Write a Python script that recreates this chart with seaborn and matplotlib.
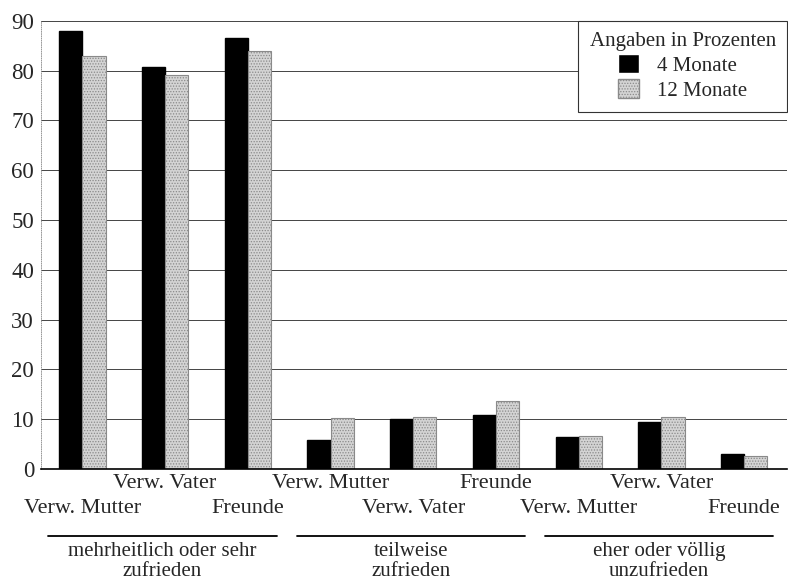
import pandas as pd
import seaborn as sns
import matplotlib.pyplot as plt
from matplotlib.transforms import blended_transform_factory

# Data (percent)
groups = ["mehrheitlich oder sehr\nzufrieden", "teilweise\nzufrieden", "eher oder völlig\nunzufrieden"]
persons = ["Verw. Mutter", "Verw. Vater", "Freunde"]
series = ["4 Monate", "12 Monate"]
values_4 = [88.0, 80.8, 86.6, 5.8, 10.0, 10.8, 6.4, 9.4, 3.0]
values_12 = [83.0, 79.2, 84.0, 10.2, 10.4, 13.6, 6.6, 10.4, 2.5]
label_rows = [1, 0, 1, 0, 1, 0, 1, 0, 1]  # 0 = upper row, 1 = lower row

# Long-form table, one unique key per bar pair
keys = [f"{g}|{p}" for g in groups for p in persons]
df = pd.DataFrame({
    "key": keys * 2,
    "Zeitpunkt": [series[0]] * 9 + [series[1]] * 9,
    "Prozent": values_4 + values_12,
})

sns.set_style("white")
plt.rcParams["font.family"] = ["Liberation Serif", "DejaVu Serif"]
plt.rcParams["hatch.linewidth"] = 0.6

fig = plt.figure(figsize=(7.88, 5.81), dpi=100)
ax = fig.add_axes([0.052, 0.193, 0.947, 0.771])

sns.barplot(data=df, x="key", y="Prozent", hue="Zeitpunkt", order=keys,
            hue_order=series, palette=["black", "#d4d4d4"], width=0.56,
            gap=0, saturation=1, ax=ax, legend=True)

# stippled look for the 12-month bars
for bar in ax.containers[1]:
    bar.set_hatch("......")
    bar.set_edgecolor("#8a8a8a")
    bar.set_linewidth(0.8)
for bar in ax.containers[0]:
    bar.set_edgecolor("black")

ax.set_ylim(0, 90)
ax.set_xlim(-0.5, 8.52)
ax.set_yticks(range(0, 91, 10))
ax.yaxis.grid(True, color="#444444", linewidth=0.7)
ax.set_axisbelow(True)
ax.set_xlabel("")
ax.set_ylabel("")
ax.set_xticks(range(9))
ax.set_xticklabels([])
ax.tick_params(axis="x", length=0)
ax.tick_params(axis="y", length=0, pad=5, labelsize=16.5)

for s in ["top", "right"]:
    ax.spines[s].set_visible(False)
ax.spines["bottom"].set_color("black")
ax.spines["bottom"].set_linewidth(1.2)
ax.spines["left"].set_color("#888888")
ax.spines["left"].set_linewidth(0.6)
ax.spines["left"].set_linestyle(":")

trans = blended_transform_factory(ax.transData, ax.transAxes)

# two-row category labels
row_y = [-0.0335, -0.089]
for i, (p, r) in enumerate(zip(persons * 3, label_rows)):
    ax.text(i, row_y[r], p, transform=trans, ha="center", va="center",
            fontsize=16)

# group brackets and group labels below the axis
for i, g in enumerate(groups):
    x0, x1 = -0.41 + 3 * i, 2.35 + 3 * i
    ax.plot([x0, x1], [-0.149, -0.149], color="black", lw=1.3,
            transform=trans, clip_on=False)
    ax.text((x0 + x1) / 2, -0.163, g, transform=trans, ha="center", va="top",
            fontsize=15, linespacing=1.05)

leg = ax.legend(title="Angaben in Prozenten", loc="upper right",
                bbox_to_anchor=(1.0, 1.0), borderaxespad=0, fancybox=False,
                framealpha=1, edgecolor="#333333", fontsize=15,
                title_fontsize=15, handlelength=1.0, handleheight=1.0,
                handletextpad=0.9, labelspacing=0.15, borderpad=0.55)
leg.get_frame().set_linewidth(0.8)
leg.legend_handles[1].set_hatch("......")
leg.legend_handles[1].set_edgecolor("#8a8a8a")

fig.savefig("out.png", dpi=100)
